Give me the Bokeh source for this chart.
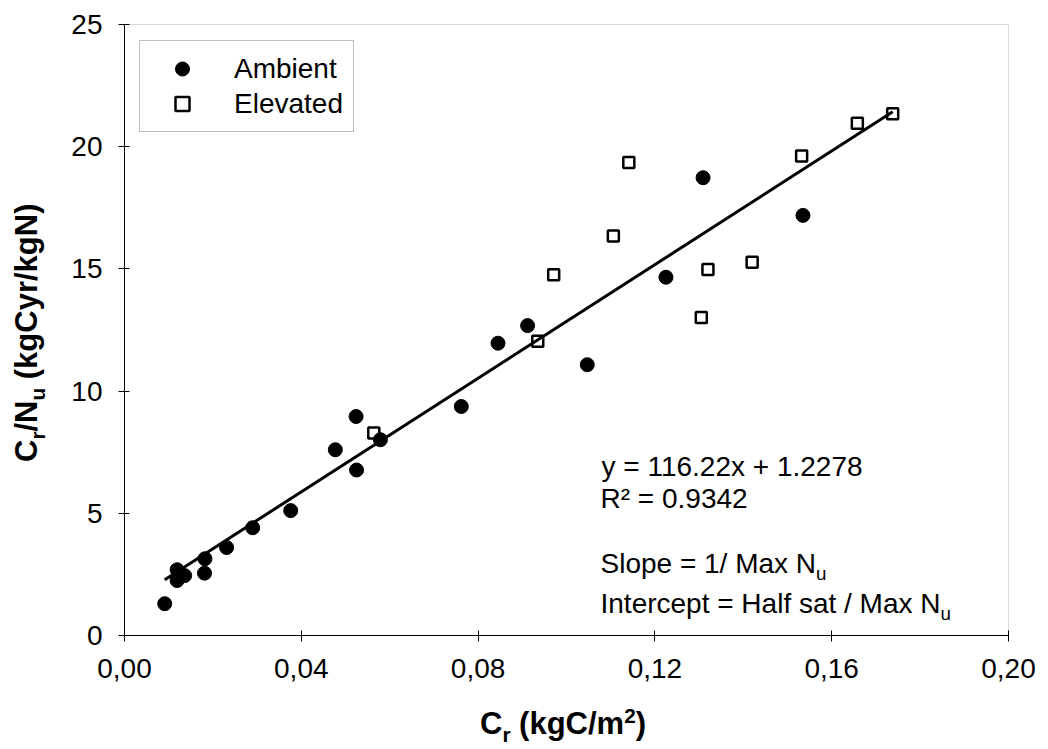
import math
from bokeh.plotting import figure
from bokeh.models import (Range1d, FixedTicker, CustomJSTickFormatter, Label,
                          Legend, LegendItem, BoxAnnotation)
from bokeh.embed import file_html
from bokeh.resources import INLINE

# ---------------- data ----------------
ambient_x = [0.0091, 0.0119, 0.0119, 0.0136, 0.0182, 0.0181, 0.0231, 0.0290,
             0.0376, 0.0477, 0.0524, 0.0525, 0.0579, 0.0762, 0.0845, 0.0912,
             0.1047, 0.1225, 0.1309, 0.1535]
ambient_y = [1.30, 2.69, 2.25, 2.45, 3.14, 2.55, 3.60, 4.41,
             5.11, 7.60, 8.96, 6.77, 8.01, 9.37, 11.96, 12.68,
             11.08, 14.66, 18.73, 17.19]
elevated_x = [0.0564, 0.0935, 0.0971, 0.1106, 0.1141, 0.1305, 0.1320, 0.1420,
              0.1532, 0.1658, 0.1738]
elevated_y = [8.29, 12.04, 14.76, 16.35, 19.35, 13.01, 14.98, 15.27,
              19.62, 20.96, 21.35]
fit_slope = 116.22
fit_intercept = 1.2278
r_squared = 0.9342
x_ticks = [0.0, 0.04, 0.08, 0.12, 0.16, 0.20]
y_ticks = [0, 5, 10, 15, 20, 25]

FONT = "Liberation Sans"
W, H = 1048, 749
# pixel positions of the plot area (axes) on the canvas
AX_L, AX_R, AX_T, AX_B = 124, 1008, 24, 635

# Arial-compatible advance widths (per 1000 em)
REG = {' ': 278, '=': 584, '1': 556, '/': 278, 'M': 833, 'a': 556, 'x': 500,
       'N': 722, 'S': 667, 'l': 222, 'o': 556, 'p': 556, 'e': 556, 'I': 278,
       'n': 556, 't': 278, 'r': 333, 'c': 500, 'H': 722, 'f': 278, 's': 500,
       'u': 556}
BOLD = {'C': 722, 'r': 389, ' ': 278, '(': 333, ')': 333, 'k': 556, 'g': 611,
        '/': 278, 'm': 889, '2': 556, 'N': 722, 'u': 611, 'y': 556}
MID = 0.3465  # distance (em) from the alphabetic baseline to the em-box middle


def text_width(s, size, bold):
    table = BOLD if bold else REG
    return sum(table.get(ch, 556) for ch in s) * size / 1000.0


def rich_text(plot, pieces, x, y, size, bold=False, angle=0.0):
    """pieces: list of (text, kind) with kind in 'n', 'sub', 'sup'.
    x, y: screen position of the baseline start, from canvas bottom-left."""
    dx, dy = math.cos(angle), math.sin(angle)
    downx, downy = math.sin(angle), -math.cos(angle)
    pos = 0.0
    for txt, kind in pieces:
        s = size if kind == 'n' else size * 0.67
        shift = 0.0
        if kind == 'sub':
            shift = 0.22 * size
        elif kind == 'sup':
            shift = -0.36 * size
        lead = len(txt) - len(txt.lstrip(' '))
        pos += text_width(' ' * lead, s, bold)
        txt = txt.lstrip(' ')
        bx = x + dx * pos + downx * shift
        by = y + dy * pos + downy * shift
        lx = bx - downx * MID * s
        ly = by - downy * MID * s
        plot.add_layout(Label(x=lx, y=ly, x_units="screen", y_units="screen",
                              text=txt, angle=angle, text_font=FONT,
                              text_font_size=f"{s:.1f}px",
                              text_font_style="bold" if bold else "normal",
                              text_baseline="middle", text_align="left",
                              text_color="black"))
        pos += text_width(txt, s, bold)


# data ranges extended so that the frame fills the whole canvas
x_per_px = (x_ticks[-1] - x_ticks[0]) / (AX_R - AX_L)
y_per_px = (y_ticks[-1] - y_ticks[0]) / (AX_B - AX_T)
x_range = Range1d(x_ticks[0] - AX_L * x_per_px, x_ticks[-1] + (W - AX_R) * x_per_px)
y_range = Range1d(y_ticks[0] - (H - AX_B) * y_per_px, y_ticks[-1] + AX_T * y_per_px)

p = figure(width=W, height=H, output_backend="svg", toolbar_location=None,
           x_range=x_range, y_range=y_range,
           min_border_left=0, min_border_right=0,
           min_border_top=0, min_border_bottom=0)
p.grid.visible = False
p.background_fill_color = "white"
p.border_fill_color = "white"
p.outline_line_color = None

# plot-area border (grey), drawn beneath the axes
p.add_layout(BoxAnnotation(left=x_ticks[0], right=x_ticks[-1],
                           bottom=y_ticks[0], top=y_ticks[-1],
                           fill_alpha=0, line_color="#808080", line_width=1,
                           level="underlay"))

for ax in (p.xaxis[0], p.yaxis[0]):
    ax.fixed_location = 0
    ax.axis_line_color = "black"
    ax.axis_line_width = 1
    ax.major_tick_line_color = "black"
    ax.major_tick_in = 5
    ax.major_tick_out = 6
    ax.minor_tick_line_color = None
    ax.major_label_text_font = FONT
    ax.major_label_text_font_size = "28px"
    ax.major_label_text_color = "black"

p.xaxis[0].bounds = (x_ticks[0], x_ticks[-1])
p.xaxis[0].ticker = FixedTicker(ticks=x_ticks)
p.xaxis[0].formatter = CustomJSTickFormatter(
    code="return tick.toFixed(2).replace('.', ',');")
p.xaxis[0].major_label_standoff = 17
p.yaxis[0].bounds = (y_ticks[0], y_ticks[-1])
p.yaxis[0].ticker = FixedTicker(ticks=y_ticks)
p.yaxis[0].major_label_standoff = 16

# trend line over the range of the data
all_x = ambient_x + elevated_x
line_x = [min(all_x), max(all_x)]
line_y = [fit_slope * v + fit_intercept for v in line_x]
p.line(line_x, line_y, line_color="black", line_width=3)

r_amb = p.scatter(ambient_x, ambient_y, marker="circle", size=14,
                  fill_color="black", line_color="black", line_width=1)
r_elev = p.scatter(elevated_x, elevated_y, marker="square", size=11,
                   fill_color="white", fill_alpha=0, line_color="black",
                   line_width=2.5)

legend = Legend(items=[LegendItem(label="Ambient", renderers=[r_amb]),
                       LegendItem(label="Elevated", renderers=[r_elev])],
                location=(139, H - 132), orientation="vertical", padding=10,
                spacing=0, margin=0, glyph_width=64, glyph_height=35,
                label_height=35, label_standoff=20,
                label_text_font=FONT, label_text_font_size="28px",
                label_text_color="black",
                border_line_color="#808080", border_line_width=1,
                background_fill_color="white", background_fill_alpha=1)
p.add_layout(legend)

# axis titles (with sub/superscripts)
rich_text(p, [("C", 'n'), ("r", 'sub'), (" (kgC/m", 'n'), ("2", 'sup'), (")", 'n')],
          479.5, H - 734, 31, bold=True)
rich_text(p, [("C", 'n'), ("r", 'sub'), ("/N", 'n'), ("u", 'sub'),
              (" (kgCyr/kgN)", 'n')],
          37, H - 461.5, 31, bold=True, angle=math.pi / 2)

# annotations
rich_text(p, [(f"y = {fit_slope}x + {fit_intercept}", 'n')], 601, H - 476, 28)
rich_text(p, [(f"R\u00b2 = {r_squared}", 'n')], 600, H - 508, 28)
rich_text(p, [("Slope = 1/ Max N", 'n'), ("u", 'sub')], 600, H - 573, 28)
rich_text(p, [("Intercept = Half sat / Max N", 'n'), ("u", 'sub')], 600, H - 613, 28)

open("out.html", "w").write(file_html(p, INLINE))
